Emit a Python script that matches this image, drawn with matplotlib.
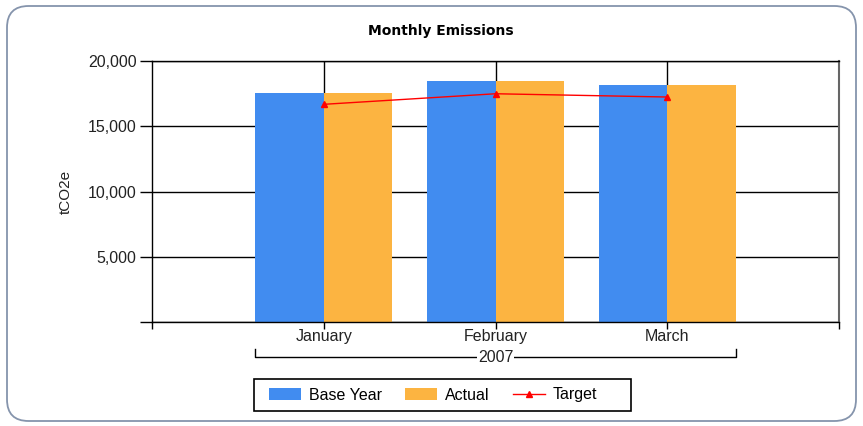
import matplotlib.pyplot as plt
import matplotlib.transforms as mtransforms
from matplotlib.patches import FancyBboxPatch, Rectangle
from matplotlib.ticker import FuncFormatter

months = ["January", "February", "March"]
base_year = [17550, 18470, 18160]
actual = [17550, 18470, 18160]
target = [16680, 17490, 17240]
year_label = "2007"

BLUE = "#418CF0"
ORANGE = "#FCB441"

plt.rcParams["font.family"] = ["Liberation Sans", "DejaVu Sans"]


def main() -> None:
    W, H = 863, 426
    fig = plt.figure(figsize=(W / 100, H / 100), dpi=100)

    # rounded outer frame, kept behind the axes
    frame = FancyBboxPatch(
        (7 / W, 5 / H), 849 / W, 415 / H,
        boxstyle="round,pad=0,rounding_size=0.025",
        transform=fig.transFigure, facecolor="white",
        edgecolor="#8594AC", linewidth=1.3, mutation_aspect=W / H,
        zorder=-10,
    )
    fig.patches.append(frame)

    ax = fig.add_axes([152 / W, 1 - 322 / H, (839 - 152) / W, (322 - 61) / H])
    ax.set_facecolor("none")

    x = list(range(len(months)))
    w = 0.4
    b1 = ax.bar([i - w / 2 for i in x], base_year, width=w, color=BLUE, label="Base Year", zorder=2)
    b2 = ax.bar([i + w / 2 for i in x], actual, width=w, color=ORANGE, label="Actual", zorder=2)
    (ln,) = ax.plot(x, target, color="red", linewidth=1, marker="^", markersize=5,
                    label="Target", zorder=3)

    ax.set_xlim(-1, 3)
    ax.set_ylim(0, 20000)
    ax.set_yticks([0, 5000, 10000, 15000, 20000])
    ax.yaxis.set_major_formatter(FuncFormatter(lambda v, p: "" if v == 0 else f"{int(v):,}"))
    ax.set_xticks([-1] + x + [3])
    ax.set_xticklabels([""] + months + [""])

    ax.grid(axis="y", color="black", linewidth=1, zorder=1)
    for i in x:
        ax.axvline(i, color="black", linewidth=1, zorder=1)

    for side in ["left", "bottom", "top"]:
        ax.spines[side].set_color("black")
        ax.spines[side].set_linewidth(1)
    ax.spines["right"].set_color("#666666")
    ax.spines["right"].set_linewidth(1.5)

    ax.tick_params(axis="y", length=9, width=1, labelsize=11.5, pad=2, labelcolor="#222222")
    ax.tick_params(axis="x", length=5, width=1, labelsize=11.5, pad=0, labelcolor="#222222")

    ax.set_ylabel("tCO2e", fontsize=11, labelpad=11, color="#222222")

    fig.text(441 / W, 1 - 31 / H, "Monthly Emissions", ha="center", va="center",
             fontsize=10, fontweight="bold", family="DejaVu Sans")

    # year bracket under the month labels
    trans = mtransforms.blended_transform_factory(ax.transData, ax.transAxes)
    yb = -35 / 261
    ye = -27 / 261
    ax.plot([-0.4, -0.4, 2.4, 2.4], [ye, yb, yb, ye], transform=trans,
            color="black", linewidth=1, clip_on=False)
    ax.text(1, yb, year_label, transform=trans, ha="center", va="center",
            fontsize=11.5, color="#222222",
            bbox=dict(facecolor="white", edgecolor="none", pad=0.5))

    # legend box is wider than the entries, so the frame is drawn separately
    fig.patches.append(Rectangle((254 / W, 1 - 411 / H), 377 / W, 32 / H,
                                 transform=fig.transFigure, facecolor="white",
                                 edgecolor="black", linewidth=1.2, zorder=-5))
    fig.legend(handles=[b1, b2, ln], labels=["Base Year", "Actual", "Target"],
               loc="center", bbox_to_anchor=(433 / W, 1 - 395 / H), ncol=3,
               frameon=False, fontsize=11.5,
               handlelength=2.0, handleheight=0.7, columnspacing=1.45,
               handletextpad=0.5, borderpad=0.4)

    fig.savefig("out.png", dpi=100)


if __name__ == "__main__":
    main()
